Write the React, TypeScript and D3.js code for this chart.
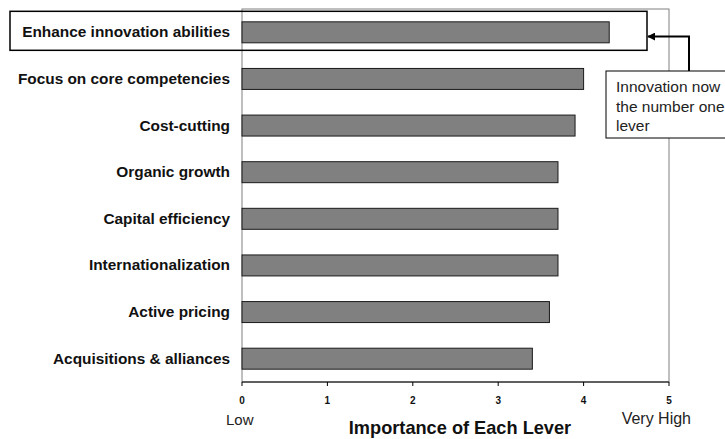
import React from "react";
import * as d3 from "d3";

// Survey: importance of each growth lever (0 = low, 5 = very high)
const levers = [
  "Enhance innovation abilities",
  "Focus on core competencies",
  "Cost-cutting",
  "Organic growth",
  "Capital efficiency",
  "Internationalization",
  "Active pricing",
  "Acquisitions & alliances",
];
const importance = [4.3, 4.0, 3.9, 3.7, 3.7, 3.7, 3.6, 3.4];
const xTicks = [0, 1, 2, 3, 4, 5];
const calloutLines = ["Innovation now", "the number one", "lever"];

const W = 725;
const H = 439;
const plot = { left: 242, right: 669, top: 9, bottom: 382 };
const FONT = "Arial, 'Liberation Sans', Helvetica, sans-serif";

export default function App() {
  const x = d3.scaleLinear().domain([0, 5]).range([plot.left, plot.right]);
  const y = d3
    .scaleBand<string>()
    .domain(levers)
    .range([plot.top, plot.bottom])
    .paddingInner(0.55)
    .paddingOuter(0.275);

  const topBand = y(levers[0])!;
  const topCenter = topBand + y.bandwidth() / 2;
  const highlight = { x0: 10, x1: 647, y0: topCenter - 21, y1: topCenter + 18 };
  const arrowX = 689;
  const arrowY = 36.5;
  const callout = { x: 606, y: 71, w: 140, h: 67 };

  return (
    <svg
      width={W}
      height={H}
      style={{ position: "absolute", left: 0, top: 0, background: "#fff" }}
      fontFamily={FONT}
    >
      <defs>
        <marker
          id="arrowHead"
          viewBox="0 0 10 10"
          refX="9"
          refY="5"
          markerWidth="4"
          markerHeight="4"
          orient="auto"
        >
          <path d="M0,0 L10,5 L0,10 z" fill="#000" />
        </marker>
      </defs>

      {/* plot frame */}
      <rect
        x={plot.left}
        y={plot.top}
        width={plot.right - plot.left}
        height={plot.bottom - plot.top}
        fill="none"
        stroke="#808080"
        strokeWidth={1}
      />

      {/* bars */}
      {levers.map((d, i) => (
        <rect
          key={d}
          x={x(0)}
          y={y(d)}
          width={x(importance[i]) - x(0)}
          height={y.bandwidth()}
          fill="#808080"
          stroke="#1a1a1a"
          strokeWidth={1}
        />
      ))}

      {/* category labels */}
      {levers.map((d) => (
        <text
          key={d}
          x={230}
          y={y(d)! + y.bandwidth() / 2 + 5}
          textAnchor="end"
          fontSize={15.4}
          fontWeight="bold"
          fill="#111"
        >
          {d}
        </text>
      ))}

      {/* x axis */}
      <line x1={plot.left} x2={plot.right} y1={plot.bottom} y2={plot.bottom} stroke="#000" strokeWidth={1.2} />
      {xTicks.map((t) => (
        <g key={t}>
          <line x1={x(t)} x2={x(t)} y1={plot.bottom} y2={plot.bottom + 4} stroke="#000" strokeWidth={1} />
          <text x={x(t)} y={404} textAnchor="middle" fontSize={10} fontWeight="bold" fill="#111">
            {t}
          </text>
        </g>
      ))}
      <text x={226} y={425} fontSize={15} fill="#222">
        Low
      </text>
      <text x={691} y={424} fontSize={16} textAnchor="end" fill="#222">
        Very High
      </text>
      <text x={460} y={434} fontSize={18.2} fontWeight="bold" textAnchor="middle" fill="#111">
        Importance of Each Lever
      </text>

      {/* highlight box around the top lever */}
      <rect
        x={highlight.x0}
        y={highlight.y0}
        width={highlight.x1 - highlight.x0}
        height={highlight.y1 - highlight.y0}
        fill="none"
        stroke="#000"
        strokeWidth={1.5}
      />

      {/* callout arrow */}
      <path
        d={`M${arrowX},${callout.y} L${arrowX},${arrowY} L${highlight.x1 + 1},${arrowY}`}
        fill="none"
        stroke="#000"
        strokeWidth={2}
        markerEnd="url(#arrowHead)"
      />

      {/* callout box */}
      <rect
        x={callout.x}
        y={callout.y}
        width={callout.w}
        height={callout.h}
        fill="#fff"
        stroke="#000"
        strokeWidth={1}
      />
      {calloutLines.map((t, i) => (
        <text key={t} x={616} y={92 + i * 19.5} fontSize={15.5} fill="#222">
          {t}
        </text>
      ))}
    </svg>
  );
}
